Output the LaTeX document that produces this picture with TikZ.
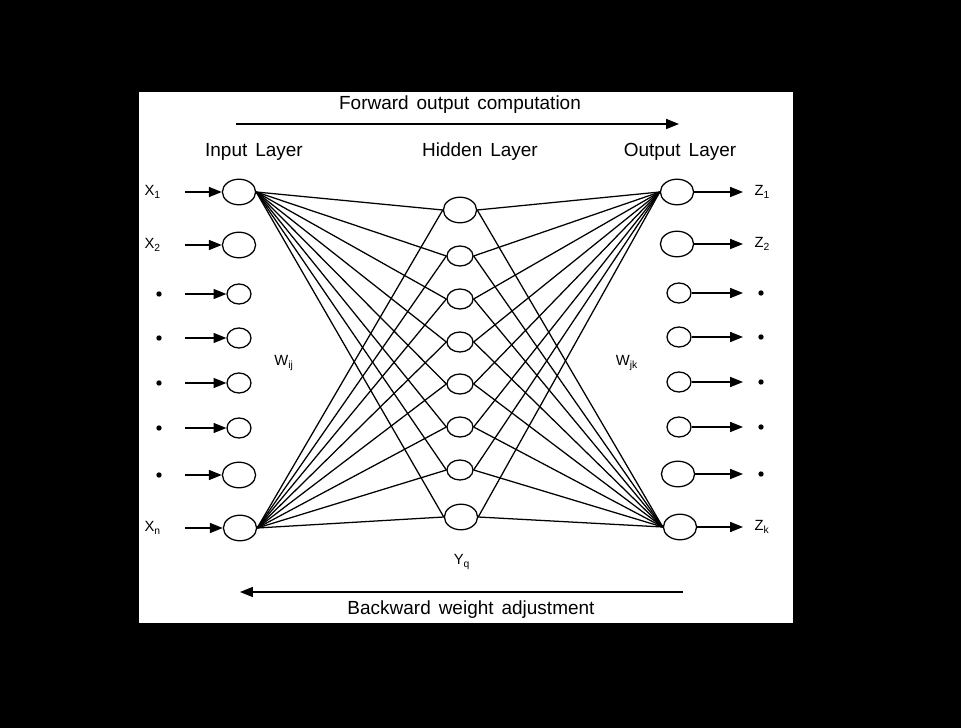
\documentclass[tikz,border=0pt]{standalone}
\usepackage{fontspec}
\setmainfont{Liberation Sans}
\usetikzlibrary{arrows.meta, shapes.geometric}
\newcommand\widesp{\spaceskip=0.42em\relax}

\begin{document}
\begin{tikzpicture}[x=0.025cm, y=-0.025cm, line width=0.9pt,
    big/.style={draw, ellipse, inner sep=0pt, minimum width=0.83cm, minimum height=0.64cm},
    small/.style={draw, ellipse, inner sep=0pt, minimum width=0.6cm, minimum height=0.5cm},
    hsmall/.style={draw, ellipse, inner sep=0pt, minimum width=0.65cm, minimum height=0.5cm},
    dot/.style={circle, fill, inner sep=0pt, minimum size=3.8pt},
    lbl/.style={font=\fontsize{10.5}{12}\selectfont, inner sep=0pt},
    head/.style={font={\fontsize{13.5}{16}\selectfont\widesp}, inner sep=0pt},
    feed/.style={-{Triangle[length=3.2mm, width=2.5mm]}}]

  % background and panel
  \fill[black] (0,0) rectangle (961,728);
  \fill[white] (139,92) rectangle (793,623);

  % input layer
  \node[big]   (in1) at (239,192) {};
  \node[big]   (in2) at (239,245) {};
  \node[small] (in3) at (239,294) {};
  \node[small] (in4) at (239,338) {};
  \node[small] (in5) at (239,383) {};
  \node[small] (in6) at (239,428) {};
  \node[big]   (in7) at (239,475) {};
  \node[big]   (in8) at (240,528) {};

  % hidden layer
  \node[big]    (h1) at (460,210) {};
  \node[hsmall] (h2) at (460,256) {};
  \node[hsmall] (h3) at (460,299) {};
  \node[hsmall] (h4) at (460,342) {};
  \node[hsmall] (h5) at (460,384) {};
  \node[hsmall] (h6) at (460,427) {};
  \node[hsmall] (h7) at (460,470) {};
  \node[big]    (h8) at (461,517) {};

  % output layer
  \node[big]   (out1) at (677,192) {};
  \node[big]   (out2) at (677,244) {};
  \node[small] (out3) at (679,293) {};
  \node[small] (out4) at (679,337) {};
  \node[small] (out5) at (679,382) {};
  \node[small] (out6) at (679,427) {};
  \node[big]   (out7) at (678,474) {};
  \node[big]   (out8) at (680,527) {};

  % inputs and outputs
  \foreach \i/\y in {1/192,2/245,3/294,4/338,5/383,6/428,7/475,8/528} {
    \coordinate (src\i) at (185,\y);
    \draw[feed] (src\i) -- (in\i.west);
  }
  \foreach \i/\y in {1/192,2/244,3/293,4/337,5/382,6/427,7/474,8/527} {
    \coordinate (dst\i) at (743,\y);
    \draw[feed] (out\i.east) -- (dst\i);
  }

  \node[lbl, anchor=west] (x1) at (144,192) {X\textsubscript{1}};
  \node[lbl, anchor=west] (x2) at (144,245) {X\textsubscript{2}};
  \node[dot] (xd3) at (159,294) {};
  \node[dot] (xd4) at (159,338) {};
  \node[dot] (xd5) at (159,383) {};
  \node[dot] (xd6) at (159,428) {};
  \node[dot] (xd7) at (159,475) {};
  \node[lbl, anchor=west] (xn) at (144,528) {X\textsubscript{n}};

  \node[lbl, anchor=west] (z1) at (754,192) {Z\textsubscript{1}};
  \node[lbl, anchor=west] (z2) at (754,244) {Z\textsubscript{2}};
  \node[dot] (zd3) at (761,293) {};
  \node[dot] (zd4) at (761,337) {};
  \node[dot] (zd5) at (761,382) {};
  \node[dot] (zd6) at (761,427) {};
  \node[dot] (zd7) at (761,474) {};
  \node[lbl, anchor=west] (zk) at (754,527) {Z\textsubscript{k}};

  % weights
  \foreach \j in {1,...,8} {
    \draw (in1.east) -- (h\j.west);
    \draw (in8.east) -- (h\j.west);
    \draw (h\j.east) -- (out1.west);
    \draw (h\j.east) -- (out8.west);
  }

  \node[lbl] (wij) at (284,363) {W\textsubscript{ij}};
  \node[lbl] (wjk) at (627,363) {W\textsubscript{jk}};
  \node[lbl] (yq)  at (462,562) {Y\textsubscript{q}};

  % titles
  \node[head] (lin)  at (254,152) {Input Layer};
  \node[head] (lhid) at (480,152) {Hidden Layer};
  \node[head] (lout) at (680,152) {Output Layer};

  \node[head] (fwd) at (460,105) {Forward output computation};
  \coordinate (fwdL) at (236,124);
  \coordinate (fwdR) at (679,124);
  \draw[feed] (fwdL) -- (fwdR);

  \node[head] (bwd) at (471,610) {Backward weight adjustment};
  \coordinate (bwdR) at (683,592);
  \coordinate (bwdL) at (240,592);
  \draw[feed] (bwdR) -- (bwdL);
\end{tikzpicture}
\end{document}
